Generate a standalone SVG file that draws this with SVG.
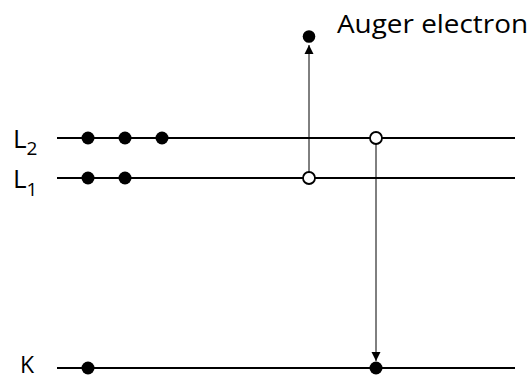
<svg xmlns="http://www.w3.org/2000/svg" width="530" height="379" viewBox="0 0 530 379">
<defs>
<style>
.lvl{stroke:#000;stroke-width:2;fill:none}
.e{fill:#000}
.h{fill:#fff;stroke:#000;stroke-width:1.8}
.t{font-family:"Open Sans","Liberation Sans",sans-serif;fill:#000}
.ar{stroke:#000;stroke-width:1;fill:none}
</style>
<marker id="ah" markerWidth="10" markerHeight="10" refX="9" refY="5" orient="auto" markerUnits="userSpaceOnUse">
<path d="M0,0.5 L9,5 L0,9.5 Z" fill="#000"/>
</marker>
</defs>
<rect width="530" height="379" fill="#fff"/>
<g id="level-L2">
<line class="lvl" x1="57" y1="138" x2="515" y2="138"/>
<text class="t" x="13" y="148" font-size="26">L<tspan font-size="19" dy="7">2</tspan></text>
</g>
<g id="level-L1">
<line class="lvl" x1="57" y1="178" x2="515" y2="178"/>
<text class="t" x="13" y="188" font-size="26">L<tspan font-size="19" dy="8">1</tspan></text>
</g>
<g id="level-K">
<line class="lvl" x1="57" y1="368" x2="515" y2="368"/>
<text class="t" x="20" y="373" font-size="23">K</text>
</g>
<g id="electrons-L2">
<circle class="e" cx="88" cy="138" r="6.5"/>
<circle class="e" cx="125" cy="138" r="6.5"/>
<circle class="e" cx="162" cy="138" r="6.5"/>
</g>
<g id="electrons-L1">
<circle class="e" cx="88" cy="178" r="6.5"/>
<circle class="e" cx="125" cy="178" r="6.5"/>
</g>
<g id="electron-K">
<circle class="e" cx="88" cy="368" r="6.5"/>
</g>
<g id="connectors">
<line class="ar" x1="309" y1="172" x2="309" y2="45" marker-end="url(#ah)"/>
<line class="ar" x1="376" y1="144" x2="376" y2="361" stroke="#666" marker-end="url(#ah)"/>
</g>
<g id="hole-L1">
<circle class="h" cx="309" cy="178" r="6"/>
</g>
<g id="hole-L2">
<circle class="h" cx="376" cy="138" r="6"/>
</g>
<g id="filled-K">
<circle class="e" cx="376" cy="368" r="6.5"/>
</g>
<g id="auger">
<circle class="e" cx="309" cy="36.5" r="6.3"/>
<text class="t" x="337" y="33" font-size="26" textLength="191" lengthAdjust="spacingAndGlyphs">Auger electron</text>
</g>
</svg>
